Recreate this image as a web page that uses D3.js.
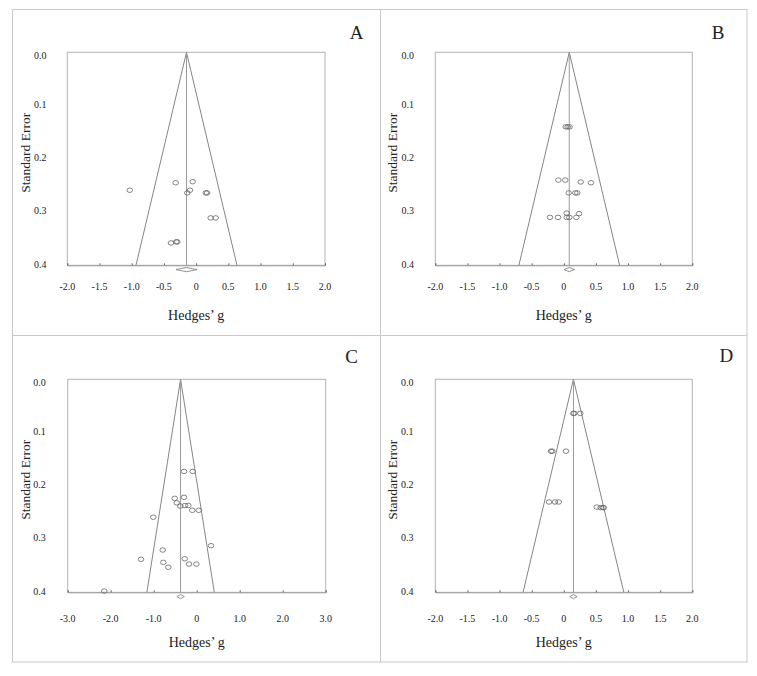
<!DOCTYPE html>
<html>
<head>
<meta charset="utf-8">
<script src="https://cdn.jsdelivr.net/npm/d3@7"></script>
<style>
  html, body { margin: 0; padding: 0; background: #fff; }
  svg { display: block; }
  text { font-family: "Liberation Serif", "Times New Roman", serif; fill: #222; }
</style>
</head>
<body>
<svg id="chart" width="757" height="676"></svg>
<script>
// ---------------- DATA ----------------
const panelLetters = ["A", "B", "C", "D"];

// [Hedges' g, Standard Error]
const pointsA = [
  [-1.03, 0.259], [-0.318, 0.245], [-0.054, 0.243], [-0.096, 0.259], [-0.138, 0.264],
  [0.150, 0.264], [0.170, 0.264], [0.225, 0.311], [0.303, 0.311],
  [-0.391, 0.358], [-0.309, 0.356], [-0.293, 0.356]
];
const pointsB = [
  [0.030, 0.140], [0.060, 0.140], [0.090, 0.140],
  [-0.085, 0.240], [0.023, 0.240], [0.263, 0.2435], [0.423, 0.245],
  [0.076, 0.264], [0.179, 0.264], [0.210, 0.264],
  [0.045, 0.302], [0.237, 0.303],
  [-0.215, 0.310], [-0.090, 0.310], [0.045, 0.310], [0.086, 0.310], [0.195, 0.310]
];
const pointsC = [
  [-0.295, 0.173], [-0.093, 0.173],
  [-0.512, 0.2235], [-0.295, 0.2216], [-0.465, 0.232], [-0.381, 0.238],
  [-0.272, 0.237], [-0.195, 0.237], [-0.102, 0.246], [0.047, 0.246],
  [-1.009, 0.259], [0.333, 0.3125], [-0.790, 0.3206], [-1.295, 0.338],
  [-0.279, 0.337], [-0.777, 0.3437], [-0.660, 0.353], [-0.179, 0.347],
  [-0.008, 0.347], [-2.149, 0.3976]
];
const pointsD = [
  [0.148, 0.064], [0.163, 0.064], [0.257, 0.064],
  [-0.199, 0.135], [-0.179, 0.135], [0.034, 0.135],
  [-0.230, 0.2304], [-0.137, 0.2304], [-0.080, 0.2304],
  [0.512, 0.240], [0.574, 0.241], [0.610, 0.241], [0.621, 0.241]
];

// pooled estimate and its CI (diamond)
const pooled   = [-0.15, 0.085, -0.375, 0.15];
const ciLow    = [-0.313, 0.002, -0.461, 0.092];
const ciHigh   = [0.013, 0.168, -0.289, 0.208];

const xDomains = [[-2, 2], [-2, 2], [-3, 3], [-2, 2]];
const xTicksAB = [-2, -1.5, -1, -0.5, 0, 0.5, 1, 1.5, 2];
const xTickLabelsAB = ["-2.0", "-1.5", "-1.0", "-0.5", "0", "0.5", "1.0", "1.5", "2.0"];
const xTicksC = [-3, -2, -1, 0, 1, 2, 3];
const xTickLabelsC = ["-3.0", "-2.0", "-1.0", "0", "1.0", "2.0", "3.0"];
const yTicks = [0, 0.1, 0.2, 0.3, 0.4];
const yTickLabels = ["0.0", "0.1", "0.2", "0.3", "0.4"];
const seMax = 0.4;
const zCrit = 1.96;

const xTitle = "Hedges\u2019 g";
const yTitle = "Standard Error";

// ---------------- LAYOUT ----------------
const layout = [
  { x0: 67.3, x1: 325, y0: 52.3, y1: 265.3, tickDy: 22.4, yLabX: 46.5, yTitleX: 30, letterX: 356.7, letterY: 39.3 },
  { x0: 435.3, x1: 692.3, y0: 52.3, y1: 265.3, tickDy: 22.4, yLabX: 414, yTitleX: 397, letterX: 718, letterY: 39.3 },
  { x0: 67.7, x1: 325.7, y0: 379.3, y1: 592.3, tickDy: 27, yLabX: 45.8, yTitleX: 30, letterX: 351.7, letterY: 363.3 },
  { x0: 435.3, x1: 692.3, y0: 379.3, y1: 592.3, tickDy: 27, yLabX: 413.5, yTitleX: 397, letterX: 726.3, letterY: 362.3 }
];
const allPoints = [pointsA, pointsB, pointsC, pointsD];
const allTicks = [xTicksAB, xTicksAB, xTicksC, xTicksAB];
const allTickLabels = [xTickLabelsAB, xTickLabelsAB, xTickLabelsC, xTickLabelsAB];

const svg = d3.select("#chart");

// outer frame and dividers
const borderColor = "#c9c9c9";
svg.append("rect").attr("x", 12.5).attr("y", 9.5).attr("width", 734.5).attr("height", 652.5)
  .attr("fill", "none").attr("stroke", borderColor).attr("stroke-width", 1);
svg.append("line").attr("x1", 380.5).attr("x2", 380.5).attr("y1", 9.5).attr("y2", 662)
  .attr("stroke", borderColor);
svg.append("line").attr("x1", 12.5).attr("x2", 747).attr("y1", 335.5).attr("y2", 335.5)
  .attr("stroke", borderColor);

layout.forEach((L, i) => {
  const g = svg.append("g");
  const x = d3.scaleLinear().domain(xDomains[i]).range([L.x0, L.x1]);
  const y = d3.scaleLinear().domain([0, seMax]).range([L.y0, L.y1]);

  // plot box
  g.append("rect").attr("x", L.x0).attr("y", L.y0)
    .attr("width", L.x1 - L.x0).attr("height", L.y1 - L.y0)
    .attr("fill", "none").attr("stroke", "#b3b3b3").attr("stroke-width", 1);

  // bottom axis ticks (small, inward)
  const xAxis = d3.axisBottom(x).tickValues(allTicks[i]).tickSize(-2).tickFormat("");
  const ax = g.append("g").attr("transform", `translate(0,${L.y1})`).call(xAxis);
  ax.select(".domain").attr("stroke", "#999");
  ax.selectAll(".tick line").attr("stroke", "#666");

  // x tick labels
  g.selectAll(".xl").data(allTicks[i]).enter().append("text")
    .attr("x", d => x(d)).attr("y", L.y1 + L.tickDy)
    .attr("text-anchor", "middle").attr("dominant-baseline", "middle")
    .attr("font-size", 10).text((d, k) => allTickLabels[i][k]);

  // y tick labels
  g.selectAll(".yl").data(yTicks).enter().append("text")
    .attr("x", L.yLabX).attr("y", d => y(d) + (d === 0 ? 4.5 : 0))
    .attr("text-anchor", "end").attr("dominant-baseline", "middle")
    .attr("font-size", 10).text((d, k) => yTickLabels[k]);

  // funnel
  const c = pooled[i];
  const funnel = [[c - zCrit * seMax, seMax], [c, 0], [c + zCrit * seMax, seMax]];
  g.append("path")
    .attr("d", d3.line().x(d => x(d[0])).y(d => y(d[1]))(funnel))
    .attr("fill", "none").attr("stroke", "#777").attr("stroke-width", 0.9);
  g.append("line").attr("x1", x(c)).attr("x2", x(c)).attr("y1", y(0)).attr("y2", y(seMax))
    .attr("stroke", "#9a9a9a").attr("stroke-width", 1);

  // points
  g.selectAll(".pt").data(allPoints[i]).enter().append("ellipse")
    .attr("cx", d => x(d[0])).attr("cy", d => y(d[1]))
    .attr("rx", 2.8).attr("ry", 2.25)
    .attr("fill", "none").attr("stroke", "#666").attr("stroke-width", 0.8);

  // pooled diamond
  const dy = L.y1 + 4.3;
  const dh = 2.1;
  const dpts = [[x(ciLow[i]), dy], [x(c), dy - dh], [x(ciHigh[i]), dy], [x(c), dy + dh]];
  g.append("polygon").attr("points", dpts.map(p => p.join(",")).join(" "))
    .attr("fill", "#fff").attr("stroke", "#777").attr("stroke-width", 0.8);

  // titles
  g.append("text").attr("x", (L.x0 + L.x1) / 2).attr("y", L.y1 + 54.5)
    .attr("text-anchor", "middle").attr("font-size", 14).text(xTitle);
  g.append("text")
    .attr("transform", `translate(${L.yTitleX},${(L.y0 + L.y1) / 2 - 6}) rotate(-90)`)
    .attr("text-anchor", "middle").attr("font-size", 13.5).text(yTitle);

  // panel letter
  g.append("text").attr("x", L.letterX).attr("y", L.letterY)
    .attr("text-anchor", "middle").attr("font-size", 19).text(panelLetters[i]);
});
</script>
</body>
</html>
